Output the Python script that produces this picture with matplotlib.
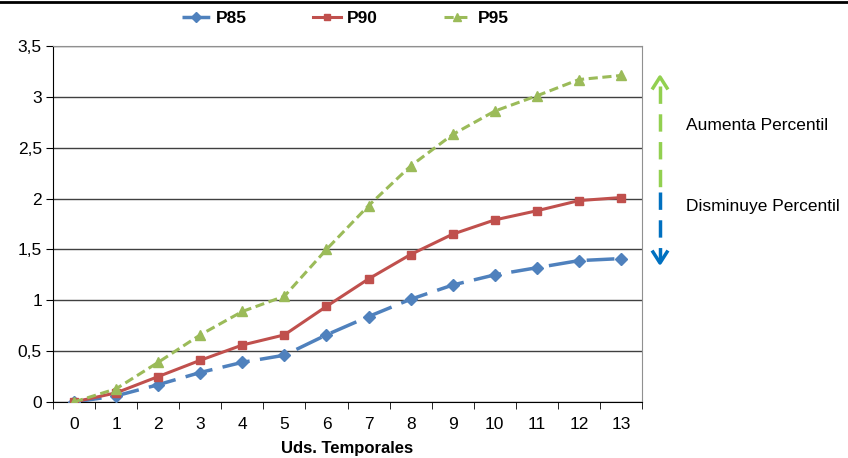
import matplotlib.pyplot as plt
from matplotlib.lines import Line2D

plt.rcParams['font.family'] = ['Liberation Sans', 'DejaVu Sans']

x = list(range(14))
p85 = [0.0, 0.06, 0.17, 0.29, 0.39, 0.46, 0.66, 0.84, 1.01, 1.15, 1.25, 1.32, 1.39, 1.41]
p90 = [0.0, 0.09, 0.25, 0.41, 0.56, 0.66, 0.94, 1.21, 1.45, 1.65, 1.79, 1.88, 1.98, 2.01]
p95 = [0.0, 0.13, 0.39, 0.66, 0.89, 1.04, 1.50, 1.93, 2.32, 2.63, 2.86, 3.01, 3.17, 3.21]
yticks = [0, 0.5, 1, 1.5, 2, 2.5, 3, 3.5]
ylabels = ['0', '0,5', '1', '1,5', '2', '2,5', '3', '3,5']

W, H = 848, 458
fig = plt.figure(figsize=(W / 100, H / 100), dpi=100)
ax = fig.add_axes([53 / W, 1 - 402 / H, 589 / W, 356 / H])

ax.plot(x, p85, color='#4F81BD', lw=2.5, dashes=(8, 3), marker='D', ms=6.5, label='P85', zorder=3)
ax.plot(x, p90, color='#C0504D', lw=2.2, marker='s', ms=5.5, label='P90', zorder=3)
ax.plot(x, p95, color='#9BBB59', lw=2.2, dashes=(3, 1.5), marker='^', ms=7, label='P95', zorder=3)

ax.set_xlim(-0.5, 13.5)
ax.set_ylim(0, 3.5)
ax.set_yticks(yticks)
ax.set_yticklabels(ylabels)
ax.set_xticks(x)
ax.set_xticks([i - 0.5 for i in range(15)], minor=True)
ax.tick_params(axis='x', which='major', length=0, labelsize=12.5, pad=11)
ax.tick_params(axis='x', which='minor', length=5, direction='out', color='black')
ax.tick_params(axis='y', length=5, direction='out', labelsize=12.5, pad=3)
ax.grid(axis='y', color='#404040', lw=1)
ax.set_axisbelow(True)
for s in ['top', 'right']:
    ax.spines[s].set_color('#909090')
for s in ['left', 'bottom']:
    ax.spines[s].set_color('black')
ax.set_xlabel('Uds. Temporales', fontsize=12, fontweight='bold', labelpad=6)

leg = fig.legend(*ax.get_legend_handles_labels(), loc='center left',
                 bbox_to_anchor=(182 / W, 1 - 18 / H), ncol=3, frameon=False,
                 prop={'weight': 'bold', 'size': 12.5}, handlelength=1.6, columnspacing=3.8,
                 handletextpad=0.35, markerscale=0.8, borderaxespad=0, borderpad=0)

# top border
fig.add_artist(Line2D([0, 1], [1 - 1.5 / H, 1 - 1.5 / H], transform=fig.transFigure, color='black', lw=2))

# percentile arrow
def fx(px):
    return px / W

def fy(py):
    return 1 - py / H

ax_x = 660
fig.add_artist(Line2D([fx(ax_x)] * 2, [fy(86), fy(190)], transform=fig.transFigure,
                      color='#92D050', lw=2.5, dashes=(5, 3)))
fig.add_artist(Line2D([fx(ax_x - 7), fx(ax_x), fx(ax_x + 7)], [fy(88), fy(77), fy(88)],
                      transform=fig.transFigure, color='#92D050', lw=2.5))
fig.add_artist(Line2D([fx(ax_x)] * 2, [fy(192), fy(260)], transform=fig.transFigure,
                      color='#0070C0', lw=2.5, dashes=(5, 3)))
fig.add_artist(Line2D([fx(ax_x - 7), fx(ax_x), fx(ax_x + 7)], [fy(252), fy(263), fy(252)],
                      transform=fig.transFigure, color='#0070C0', lw=2.5))
fig.text(fx(686), fy(125), 'Aumenta Percentil', fontsize=12.5, va='center', ha='left')
fig.text(fx(686), fy(207), 'Disminuye Percentil', fontsize=12.5, va='center', ha='left')

fig.savefig('out.png', dpi=100)
